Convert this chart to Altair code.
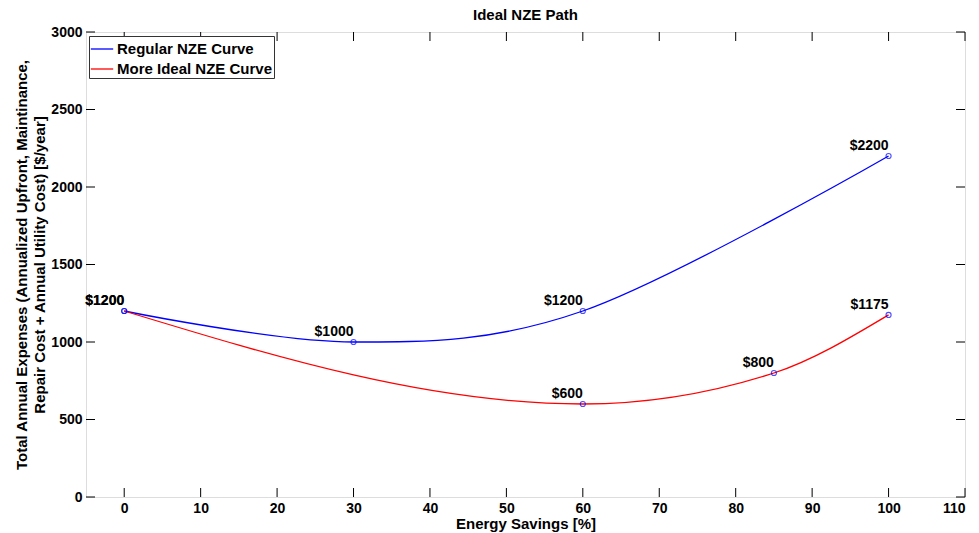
import altair as alt
import pandas as pd

# ---- data ----
series_names = ["Regular NZE Curve", "More Ideal NZE Curve"]
regular_x = [0, 30, 60, 100]
regular_y = [1200, 1000, 1200, 2200]
ideal_x = [0, 60, 85, 100]
ideal_y = [1200, 600, 800, 1175]
regular_labels = ["$1200", "$1000", "$1200", "$2200"]
ideal_labels = ["$1200", "$600", "$800", "$1175"]
x_ticks = [0, 10, 20, 30, 40, 50, 60, 70, 80, 90, 100, 110]
y_ticks = [0, 500, 1000, 1500, 2000, 2500, 3000]

rows = []
for x, y, lab in zip(regular_x, regular_y, regular_labels):
    rows.append({"series": series_names[0], "x": x, "y": y, "label": lab})
for x, y, lab in zip(ideal_x, ideal_y, ideal_labels):
    rows.append({"series": series_names[1], "x": x, "y": y, "label": lab})
df = pd.DataFrame(rows)
xt = pd.DataFrame({"t": x_ticks})
yt = pd.DataFrame({"t": y_ticks})

W, H = 879, 465
FONT = "Liberation Sans"
TL = 9

xscale = alt.Scale(domain=[-5, 110], nice=False, zero=False)
yscale = alt.Scale(domain=[0, 3000], nice=False, zero=False)

xaxis = alt.Axis(values=x_ticks, ticks=False, grid=False, domain=False,
                 format="d",
                 labelFont=FONT, labelFontSize=14, labelFontWeight="bold",
                 labelColor="black", labelPadding=4,
                 title="Energy Savings [%]", titleFont=FONT, titleFontSize=15,
                 titleFontWeight="bold", titleColor="black", titlePadding=1)
yaxis = alt.Axis(values=y_ticks, ticks=False, grid=False, domain=False,
                 format="d",
                 labelFont=FONT, labelFontSize=14, labelFontWeight="bold",
                 labelColor="black", labelPadding=4,
                 title=["Total Annual Expenses (Annualized Upfront, Maintinance,",
                        "Repair Cost + Annual Utility Cost) [$/year]"],
                 titleFont=FONT, titleFontSize=15, titleFontWeight="bold",
                 titleColor="black", titlePadding=3, titleLineHeight=18)

color_scale = alt.Scale(domain=series_names, range=["#0000ff", "#ff0000"])
legend = alt.Legend(title=None, orient="none", legendX=3, legendY=4,
                    symbolType="stroke", symbolSize=500,
                    symbolStrokeWidth=1.3,
                    labelFont=FONT, labelFontSize=15,
                    labelFontWeight="bold", labelColor="black",
                    strokeColor="#333333", fillColor="white",
                    padding=1, rowPadding=-4, labelOffset=3,
                    labelLimit=300)

base = alt.Chart(df)
line_reg = base.transform_filter(alt.datum.series == series_names[0]).mark_line(
    interpolate="cardinal", strokeWidth=1.3).encode(
    x=alt.X("x:Q", scale=xscale, axis=xaxis),
    y=alt.Y("y:Q", scale=yscale, axis=yaxis),
    color=alt.Color("series:N", scale=color_scale, legend=legend),
)
line_ideal = base.transform_filter(alt.datum.series == series_names[1]).mark_line(
    interpolate="monotone", strokeWidth=1.3).encode(
    x=alt.X("x:Q", scale=xscale),
    y=alt.Y("y:Q", scale=yscale),
    color=alt.Color("series:N", scale=color_scale, legend=legend),
)

points = base.mark_point(shape="circle", filled=False, color="#0000ff",
                         size=26, strokeWidth=1.1).encode(
    x=alt.X("x:Q", scale=xscale), y=alt.Y("y:Q", scale=yscale))

labels = base.mark_text(align="right", baseline="bottom", dy=-3, dx=0,
                        font=FONT, fontSize=14, fontWeight="bold",
                        color="black").encode(
    x=alt.X("x:Q", scale=xscale), y=alt.Y("y:Q", scale=yscale), text="label:N")

tick_style = dict(color="black", strokeWidth=1)
xb = alt.Chart(xt).mark_rule(**tick_style).encode(
    x=alt.X("t:Q", scale=xscale), y=alt.value(H), y2=alt.value(H - TL))
xtop = alt.Chart(xt).mark_rule(**tick_style).encode(
    x=alt.X("t:Q", scale=xscale), y=alt.value(0), y2=alt.value(TL))
yl = alt.Chart(yt).mark_rule(**tick_style).encode(
    y=alt.Y("t:Q", scale=yscale), x=alt.value(0), x2=alt.value(TL))
yr = alt.Chart(yt).mark_rule(**tick_style).encode(
    y=alt.Y("t:Q", scale=yscale), x=alt.value(W), x2=alt.value(W - TL))

chart = alt.layer(xb, xtop, yl, yr, line_reg, line_ideal, points, labels).properties(
    width=W, height=H,
    title=alt.TitleParams("Ideal NZE Path", font=FONT, fontSize=15,
                          fontWeight="bold", color="black", offset=2),
    autosize=alt.AutoSizeParams(type="none"),
    padding={"left": 78, "top": 24, "right": 6, "bottom": 36},
).configure_view(stroke="black", strokeWidth=1.2).configure(background="white")

chart.save("out.html", embed_options={"renderer": "svg", "actions": False})
